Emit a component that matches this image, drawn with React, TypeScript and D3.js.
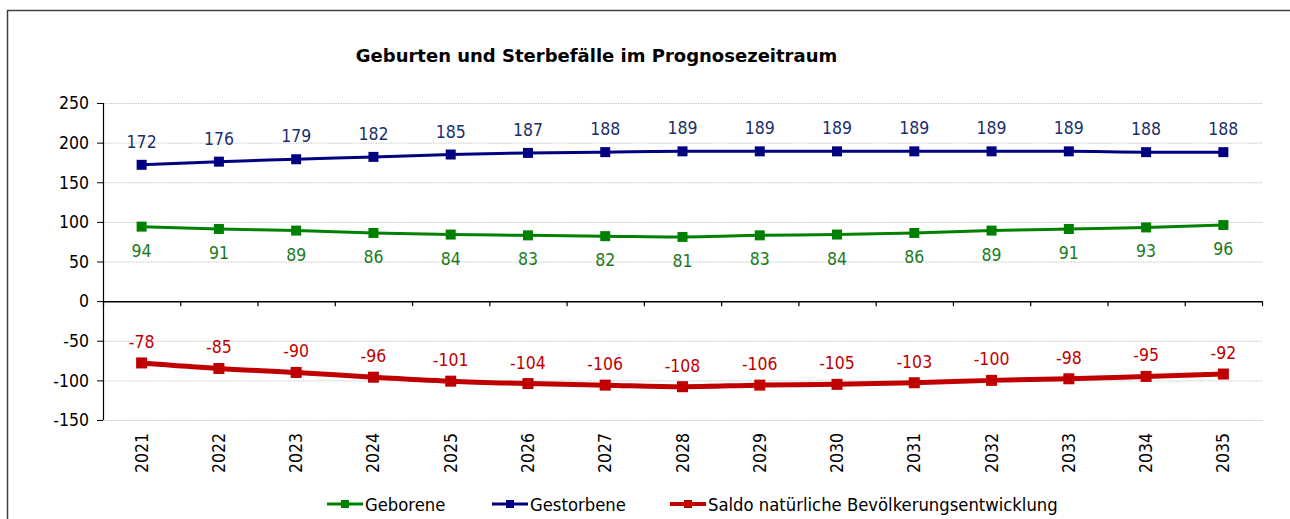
import React from "react";
import * as d3 from "d3";

const years = ["2021","2022","2023","2024","2025","2026","2027","2028","2029","2030","2031","2032","2033","2034","2035"];
const geborene = [94,91,89,86,84,83,82,81,83,84,86,89,91,93,96];
const gestorbene = [172,176,179,182,185,187,188,189,189,189,189,189,189,188,188];
const saldo = [-78,-85,-90,-96,-101,-104,-106,-108,-106,-105,-103,-100,-98,-95,-92];
const yTicks = [-150,-100,-50,0,50,100,150,200,250];
const title = "Geburten und Sterbefälle im Prognosezeitraum";

const FONT = "'DejaVu Sans', Verdana, sans-serif";
const CFONT = "'DejaVu Sans Condensed', 'DejaVu Sans', sans-serif";

export default function App() {
  const W = 1290, H = 519;
  const left = 103, right = 1262, top = 103, bottom = 420;
  const x = d3.scaleBand<string>().domain(years).range([left, right]);
  const y = d3.scaleLinear().domain([-150, 250]).range([bottom, top]);
  const cx = (i: number) => (x(years[i]) as number) + x.bandwidth() / 2;
  const line = d3.line<number>().x((_, i) => cx(i)).y(d => y(d)).curve(d3.curveMonotoneX);

  const series = [
    { name: "Geborene", data: geborene, color: "#008000", text: "#1B7A1B", width: 3, marker: 10, labelDy: 30 },
    { name: "Gestorbene", data: gestorbene, color: "#000080", text: "#1C2F6B", width: 3, marker: 10, labelDy: -17 },
    { name: "Saldo natürliche Bevölkerungsentwicklung", data: saldo, color: "#C00000", text: "#C00000", width: 5, marker: 11, labelDy: -15 },
  ];

  const bandEdges = years.map(yr => x(yr) as number).concat([right]);

  const legend = [
    { s: series[0], x0: 327 },
    { s: series[1], x0: 492 },
    { s: series[2], x0: 670 },
  ];

  return (
    <svg width={W} height={H} style={{ display: "block", position: "absolute", left: 0, top: 0 }} fontFamily={CFONT} fontStretch="condensed">
      <rect x={0} y={0} width={W} height={H} fill="#fff" />
      <rect x={7.5} y={10.5} width={1400} height={600} fill="none" stroke="#404040" strokeWidth={1.5} />
      <text x={596.5} y={62} textAnchor="middle" fontWeight="bold" fontSize={18} fill="#000" fontFamily={FONT} fontStretch="normal">{title}</text>

      {yTicks.filter(t => t !== 0).map(t => (
        <line key={"g" + t} x1={left} x2={right} y1={y(t) + 0.5} y2={y(t) + 0.5} stroke="#c8c8c8" strokeWidth={1} strokeDasharray="1.5,1" />
      ))}

      <line x1={left + 0.5} x2={left + 0.5} y1={top} y2={bottom} stroke="#000" strokeWidth={1.2} />
      {yTicks.map(t => (
        <g key={"yt" + t}>
          <line x1={left - 6} x2={left} y1={y(t) + 0.5} y2={y(t) + 0.5} stroke="#000" strokeWidth={1} />
          <text x={left - 14} y={y(t)} dy="0.36em" textAnchor="end" fontSize={17.5} fill="#000">{t}</text>
        </g>
      ))}

      <line x1={left} x2={right} y1={y(0) + 0.5} y2={y(0) + 0.5} stroke="#000" strokeWidth={1.5} />
      {bandEdges.map((e, i) => (
        <line key={"xt" + i} x1={e + 0.5} x2={e + 0.5} y1={y(0)} y2={y(0) + 5} stroke="#000" strokeWidth={1.2} />
      ))}
      {years.map((yr, i) => (
        <text key={"xl" + yr} transform={`translate(${cx(i)},433) rotate(-90)`} textAnchor="end" dominantBaseline="central" fontSize={17.5} fill="#000">{yr}</text>
      ))}

      {series.map(s => (
        <g key={s.name}>
          <path d={line(s.data) as string} fill="none" stroke={s.color} strokeWidth={s.width} />
          {s.data.map((v, i) => (
            <rect key={i} x={cx(i) - s.marker / 2} y={y(v) - s.marker / 2} width={s.marker} height={s.marker} fill={s.color} />
          ))}
          {s.data.map((v, i) => (
            <text key={"l" + i} x={cx(i)} y={y(v) + s.labelDy} textAnchor="middle" fontSize={17.5} fill={s.text}>{v}</text>
          ))}
        </g>
      ))}

      {legend.map(({ s, x0 }) => (
        <g key={"lg" + s.name}>
          <line x1={x0} x2={x0 + 36} y1={504} y2={504} stroke={s.color} strokeWidth={s.width === 5 ? 4 : 3} />
          <rect x={x0 + 18 - 4} y={500} width={8} height={8} fill={s.color} />
          <text x={x0 + 38} y={504} dy="0.36em" fontSize={18.3} fill="#000">{s.name}</text>
        </g>
      ))}
    </svg>
  );
}
